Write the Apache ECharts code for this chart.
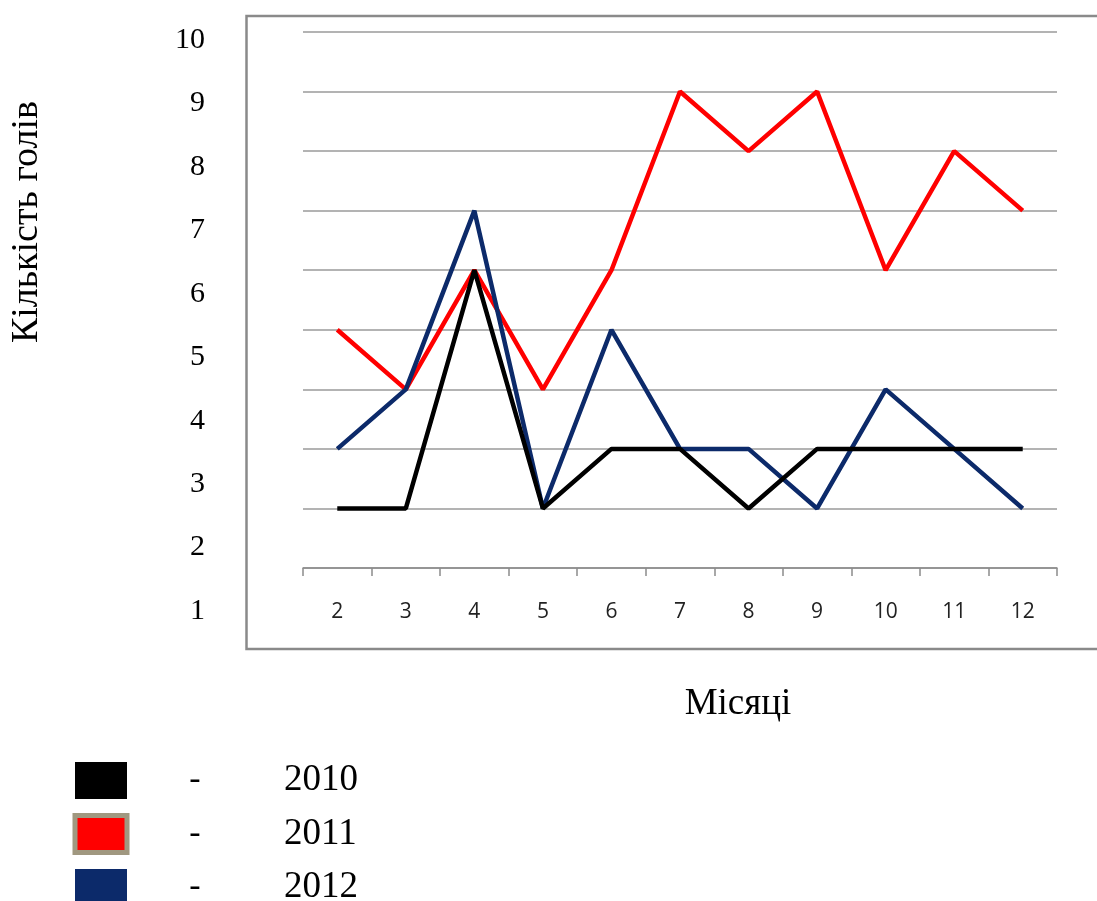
<!DOCTYPE html>
<html>
<head>
<meta charset="utf-8">
<script src="https://cdn.jsdelivr.net/npm/echarts@6/dist/echarts.min.js"></script>
<style>
  html, body { margin: 0; padding: 0; background: #fff; }
  #chart { width: 1097px; height: 901px; }
</style>
</head>
<body>
<div id="chart"></div>
<script>
// місяці
var months = ['2', '3', '4', '5', '6', '7', '8', '9', '10', '11', '12'];
// кількість голів по роках
var goals2010 = [2, 2, 6, 2, 3, 3, 2, 3, 3, 3, 3];
var goals2011 = [5, 4, 6, 4, 6, 9, 8, 9, 6, 8, 7];
var goals2012 = [3, 4, 7, 2, 5, 3, 3, 2, 4, 3, 2];
var years = ['2010', '2011', '2012'];

var serif = '"Liberation Serif", "DejaVu Serif", serif';

var myChart = echarts.init(document.getElementById('chart'));

var lineSeries = function(name, data, color) {
    return {
        name: name,
        type: 'line',
        data: data,
        xAxisIndex: 0,
        yAxisIndex: 0,
        symbol: 'none',
        animation: false,
        lineStyle: { color: color, width: 4.5 },
        itemStyle: { color: color }
    };
};

var option = {
    animation: false,
    grid: [
        // основний графік
        { left: 303, right: 40, top: 32, height: 536 },
        // зовнішня шкала 1..10
        { left: 150, width: 55, top: 40, height: 571 }
    ],
    xAxis: [{
        type: 'category',
        gridIndex: 0,
        data: months,
        boundaryGap: true,
        axisLine: { lineStyle: { color: '#8c8c8c', width: 1.5 } },
        axisTick: { show: true, length: 8, lineStyle: { color: '#8c8c8c', width: 1.5 } },
        axisLabel: {
            margin: 34,
            fontSize: 21,
            color: '#222',
            fontFamily: '"Open Sans", "Noto Sans", sans-serif'
        },
        name: 'Місяці',
        nameLocation: 'middle',
        nameGap: 118,
        nameTextStyle: { fontSize: 37, color: '#000', fontFamily: serif, padding: [0, 0, 0, 116] }
    }, {
        type: 'category',
        gridIndex: 1,
        show: false,
        data: ['']
    }],
    yAxis: [{
        type: 'value',
        gridIndex: 0,
        min: 1,
        max: 10,
        interval: 1,
        axisLine: { show: false },
        axisTick: { show: false },
        axisLabel: { show: false },
        splitLine: { lineStyle: { color: '#9a9a9a', width: 1.5 } }
    }, {
        type: 'value',
        gridIndex: 1,
        min: 1,
        max: 10,
        interval: 1,
        position: 'right',
        axisLine: { show: false },
        axisTick: { show: false },
        splitLine: { show: false },
        axisLabel: {
            inside: true,
            margin: 0,
            align: 'right',
            fontSize: 30,
            color: '#000',
            fontFamily: serif
        }
    }],
    legend: {
        orient: 'vertical',
        left: 72.5,
        top: 762,
        height: 200,
        padding: 0,
        itemWidth: 52,
        itemHeight: 37,
        itemGap: 14,
        icon: 'rect',
        data: [
            { name: '2010' },
            { name: '2011', itemStyle: { borderColor: '#a09880', borderWidth: 5 } },
            { name: '2012' }
        ],
        formatter: function(name) {
            return '{d|-}{g|}{y|' + name + '}';
        },
        textStyle: {
            rich: {
                d: { width: 126, align: 'center', fontSize: 34, fontFamily: serif, color: '#000' },
                g: { width: 26 },
                y: { fontSize: 37, fontFamily: serif, color: '#000' }
            }
        }
    },
    graphic: [{
        // рамка області графіка
        type: 'rect',
        silent: true,
        z: -1,
        shape: { x: 246.5, y: 16, width: 900, height: 633 },
        style: { fill: 'none', stroke: '#8a8a8a', lineWidth: 2.5 }
    }, {
        type: 'text',
        silent: true,
        left: 8,
        top: 101,
        rotation: Math.PI / 2,
        style: {
            text: 'Кількість голів',
            font: '38px ' + serif,
            fill: '#000'
        }
    }],
    series: [
        lineSeries('2011', goals2011, '#ff0000'),
        lineSeries('2012', goals2012, '#0c2a6a'),
        lineSeries('2010', goals2010, '#000000'),
        {
            name: 'scale',
            type: 'line',
            xAxisIndex: 1,
            yAxisIndex: 1,
            data: [],
            silent: true
        }
    ]
};

myChart.setOption(option);
</script>
</body>
</html>
